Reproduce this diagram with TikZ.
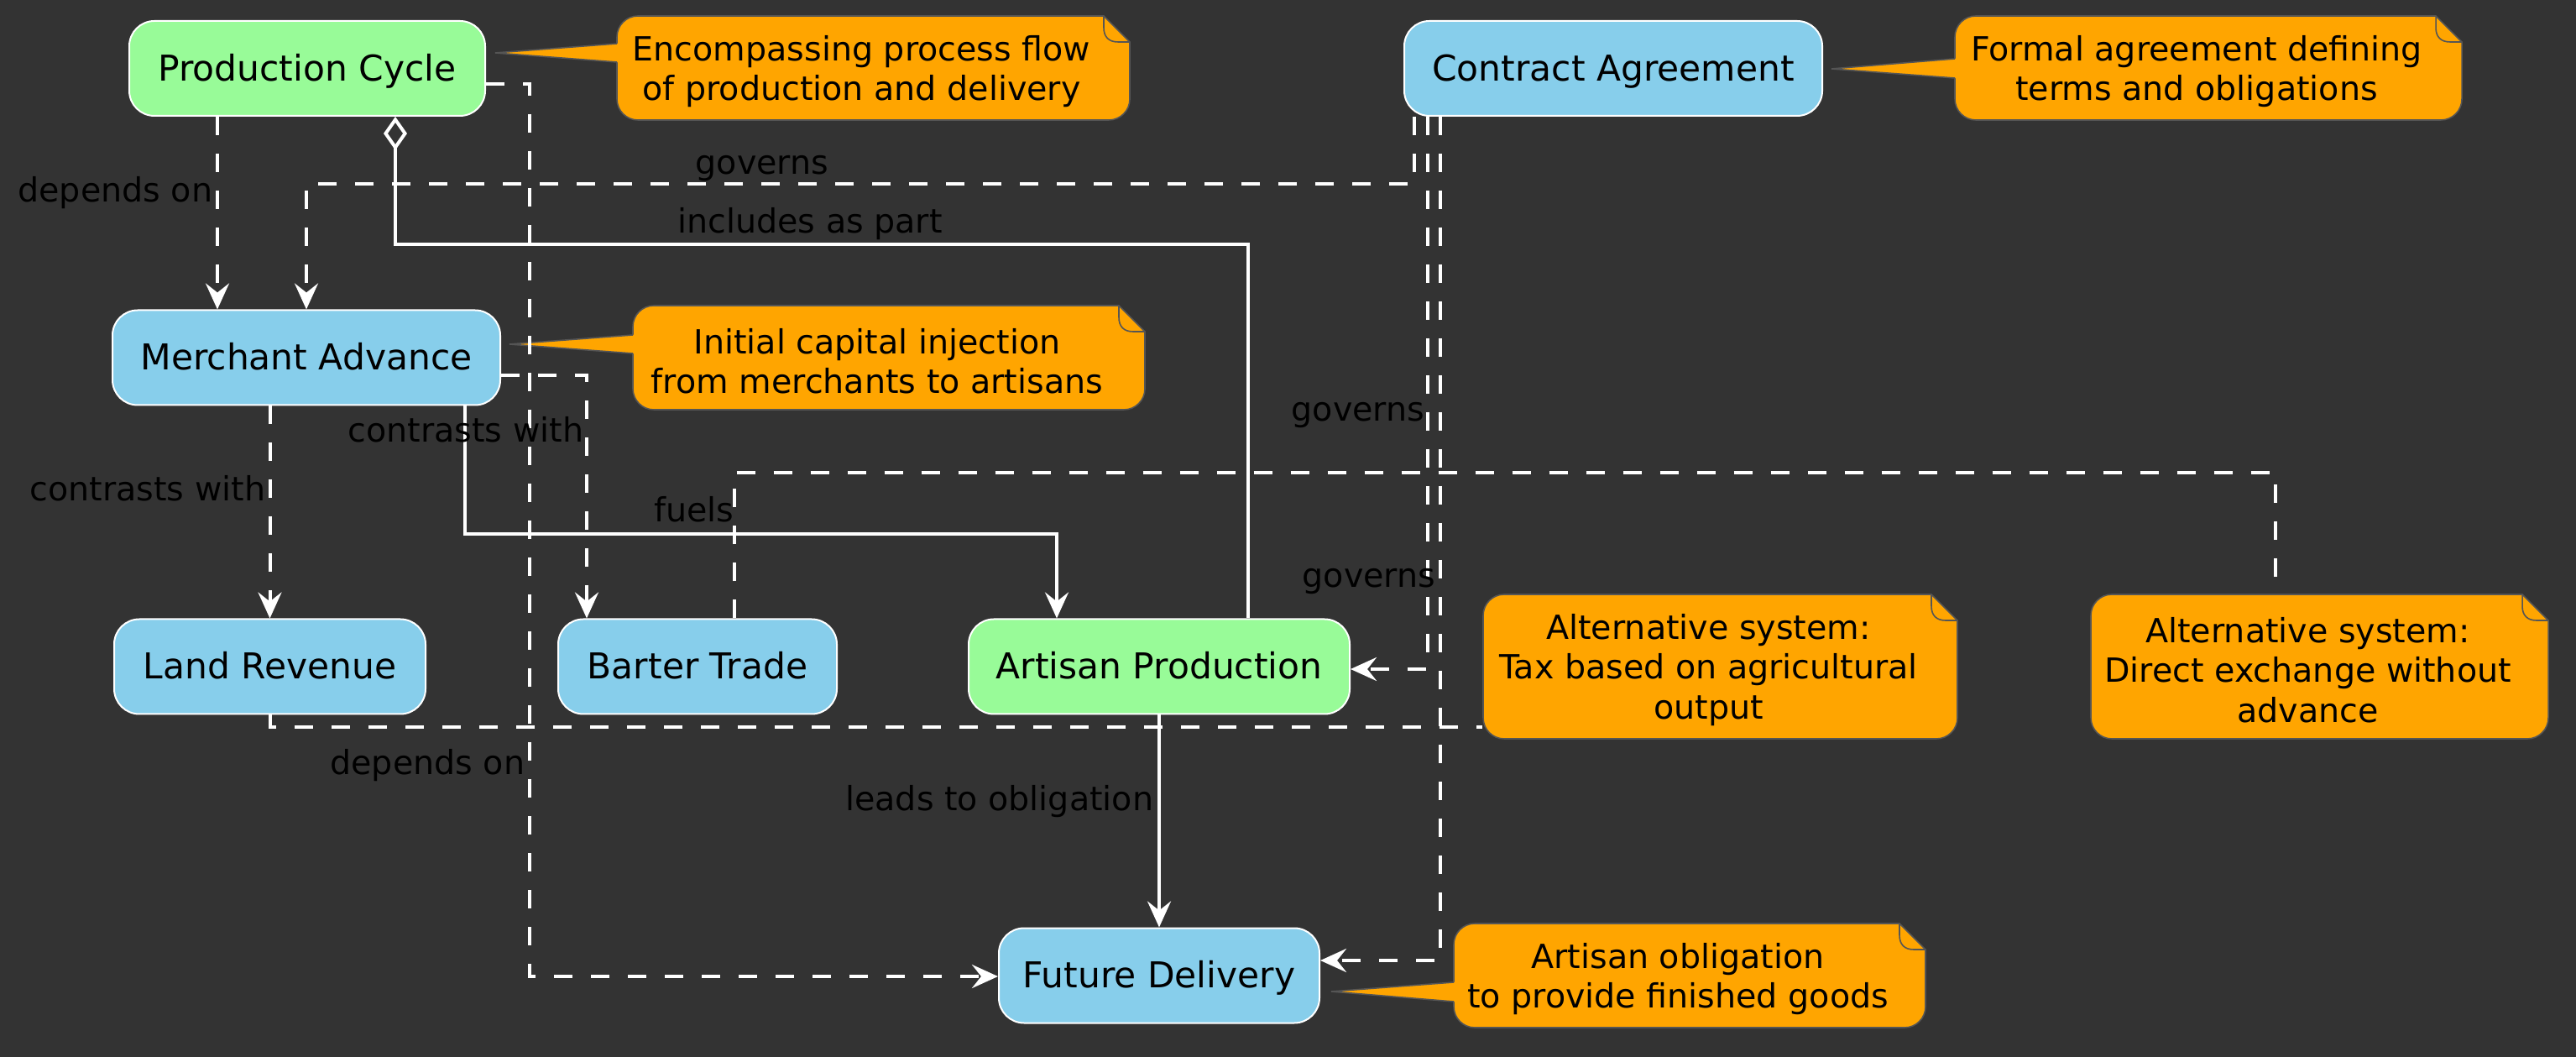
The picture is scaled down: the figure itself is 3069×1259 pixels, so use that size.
\documentclass[tikz,border=0pt]{standalone}
\usepackage{fontspec}
\setmainfont{DejaVu Sans}
\usetikzlibrary{arrows.meta}
\definecolor{bgc}{HTML}{333333}
\definecolor{pgreen}{HTML}{98FB98}
\definecolor{sblue}{HTML}{87CEEB}
\definecolor{norange}{HTML}{FFA500}
\definecolor{nborder}{HTML}{555555}
\tikzset{
  box/.style={draw=white, line width=0.5pt, rounded corners=7.5pt, inner sep=0pt,
    minimum height=28.25pt, font=\fontsize{10.6pt}{12.7pt}\selectfont, text=black,
    text height=9.84pt, text depth=2.5pt},
  lbl/.style={inner sep=0pt, font=\fontsize{9.9pt}{11.9pt}\selectfont, text=black,
    text height=7.52pt, text depth=2.38pt},
  notetext/.style={inner sep=0pt, align=center, font=\fontsize{9.9pt}{11.875pt}\selectfont, text=black},
  con/.style={draw=white, line width=1pt},
  dsh/.style={con, dash pattern=on 5.5pt off 5.5pt},
  arr/.style={-{Stealth[length=7.75pt, width=7pt, inset=2.75pt]}},
}
% #1 name, #2 x1, #3 y1, #4 x2, #5 y2, #6 text
\newcommand\mkNote[6]{%
  \path[fill=norange, draw=nborder, line width=0.4pt]
    (#2+25,#3) -- (#4-31,#3) -- (#4,#3+31) -- (#4,#5-25)
    .. controls (#4,#5-11.2) and (#4-11.2,#5) .. (#4-25,#5)
    -- (#2+25,#5)
    .. controls (#2+11.2,#5) and (#2,#5-11.2) .. (#2,#5-25)
    -- (#2,#3+25)
    .. controls (#2,#3+11.2) and (#2+11.2,#3) .. (#2+25,#3) -- cycle;
  \draw[nborder, line width=0.4pt] (#4-31,#3) -- (#4-31,#3+14)
    .. controls (#4-31,#3+25) and (#4-25,#3+31) .. (#4-14,#3+31) -- (#4,#3+31);
  \node[inner sep=0pt, minimum width={(#4-#2)*0.25pt}, minimum height={(#5-#3)*0.25pt}] (#1) at ({(#2+#4)/2},{(#3+#5)/2}) {};
  \node[notetext] (#1t) at ({(#2+#4)/2-14},{(#3+#5)/2+4}) {#6};
}
% wedge: #1 base x, #2 y top, #3 y bottom, #4 tip x, #5 tip y
\newcommand\mkWedge[5]{%
  \fill[norange] (#1+6,#2-2) -- (#1+6,#3+2) -- (#1,#3) -- (#4,#5) -- (#1,#2) -- cycle;
  \draw[nborder, line width=0.4pt] (#1,#2) -- (#4,#5) -- (#1,#3);
}
\begin{document}
\begin{tikzpicture}[x=0.25pt, y=-0.25pt]
\fill[bgc] (0,0) rectangle (3069,1259);
\useasboundingbox (0,0) rectangle (3069,1259);

% notes
\mkNote{note1}{735}{19}{1346}{143}{Encompassing process flow\\of production and delivery}
\mkWedge{735}{52}{74}{590}{63}
\mkNote{note2}{2329}{19}{2933}{143}{Formal agreement defining\\terms and obligations}
\mkWedge{2329}{70}{93}{2182}{82}
\mkNote{note3}{754}{364}{1364}{488}{Initial capital injection\\from merchants to artisans}
\mkWedge{754}{399}{421}{607}{410}
\mkNote{note4}{1767}{708}{2332}{880}{Alternative system:\\Tax based on agricultural\\output}
\mkNote{note5}{2491}{708}{3036}{880}{Alternative system:\\Direct exchange without\\advance}
\mkNote{note6}{1732}{1100}{2294}{1224}{Artisan obligation\\to provide finished goods}
\mkWedge{1732}{1170}{1193}{1586}{1181}

% nodes
\node[box, fill=pgreen, minimum width=106pt] (pc) at (366,81.5) {Production Cycle};
\node[box, fill=sblue, minimum width=124.5pt] (ca) at (1922,81.5) {Contract Agreement};
\node[box, fill=sblue, minimum width=115.5pt] (ma) at (365,426) {Merchant Advance};
\node[box, fill=sblue, minimum width=92.75pt] (lr) at (321.5,794) {Land Revenue};
\node[box, fill=sblue, minimum width=83pt] (bt) at (831,794) {Barter Trade};
\node[box, fill=pgreen, minimum width=113.5pt] (ap) at (1381,794) {Artisan Production};
\node[box, fill=sblue, minimum width=95.5pt] (fd) at (1381,1162) {Future Delivery};

% bend points
\coordinate (x259) at (259,0);
\coordinate (g1) at (1685,219); \coordinate (g2) at (365,219);
\coordinate (i1) at (471,291); \coordinate (i2) at (1487,291);
\coordinate (p1) at (631,100); \coordinate (p2) at (631,1163);
\coordinate (m1) at (699,447);
\coordinate (f1) at (554,636); \coordinate (f2) at (1259,636);
\coordinate (c1) at (1701,797);
\coordinate (c2) at (1716,1144);
\coordinate (n1) at (321,866);
\coordinate (b1) at (875,563); \coordinate (b2) at (2711,563);

% connectors
\draw[dsh, arr] (pc.south -| x259) -- (ma.north -| x259);
\draw[dsh, arr] (ca.south -| g1) -- (g1) -- (g2) -- (ma.north -| g2);
\draw[con, {Diamond[open, length=10pt, width=7pt]}-] (pc.south -| i1) -- (i1) -- (i2) -- (ap.north -| i2);
\draw[dsh, arr] (pc.east |- p1) -- (p1) -- (p2) -- (fd.west |- p2);
\draw[dsh, arr] (ma.east |- m1) -- (m1) -- (bt.north -| m1);
\draw[dsh, arr] (ma.south -| lr.north) -- (lr.north);
\draw[con, arr] (ma.south -| f1) -- (f1) -- (f2) -- (ap.north -| f2);
\draw[con, arr] (ap.south) -- (fd.north);
\draw[dsh, arr] (ca.south -| c1) -- (c1) -- (ap.east |- c1);
\draw[dsh, arr] (ca.south -| c2) -- (c2) -- (fd.east |- c2);
\draw[dsh] (lr.south) -- (lr.south |- n1) -- (note4.west |- n1);
\draw[dsh] (bt.north -| b1) -- (b1) -- (b2) -- (note5.north -| b2);

% labels
\node[lbl, anchor=east] (l1) at (254,230) {depends on};
\node[lbl] (l2) at (908,197) {governs};
\node[lbl] (l3) at (965,267) {includes as part};
\node[lbl, anchor=east] (l4) at (696,516) {contrasts with};
\node[lbl, anchor=east] (l5) at (317,586) {contrasts with};
\node[lbl, anchor=east] (l6) at (875,611) {fuels};
\node[lbl, anchor=east] (l7) at (1698,491) {governs};
\node[lbl, anchor=east] (l8) at (1711,689) {governs};
\node[lbl, anchor=east] (l9) at (626,912) {depends on};
\node[lbl, anchor=east] (l10) at (1375,955) {leads to obligation};
\end{tikzpicture}
\end{document}
